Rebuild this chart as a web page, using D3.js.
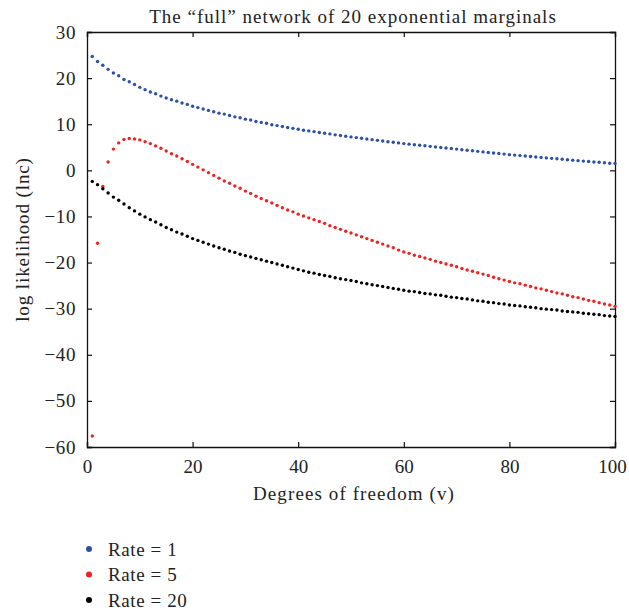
<!DOCTYPE html>
<html>
<head>
<meta charset="utf-8">
<script src="https://cdn.jsdelivr.net/npm/d3@7"></script>
<style>
  body { margin: 0; background: #fff; }
  text { font-family: "Liberation Serif", "DejaVu Serif", serif; fill: #222; }
</style>
</head>
<body>
<div class="canvas"></div>
<script>
// margins and dimensions
const w = 629;
const h = 615;
const margin = { top: 32, right: 14, bottom: 168, left: 87 };
const graphWidth = w - margin.left - margin.right;
const graphHeight = h - margin.top - margin.bottom;

// tick labels
const xTicks = [0, 20, 40, 60, 80, 100];
const yTicks = [30, 20, 10, 0, -10, -20, -30, -40, -50, -60];

// degrees of freedom, 1..100
const dof = d3.range(1, 101);

// log likelihood, one value per v
const rate1 = [
  24.7, 23.6, 22.8, 21.9, 21.1, 20.5, 19.7, 19.2, 18.6, 18.0,
  17.5, 17.0, 16.6, 16.1, 15.7, 15.3, 15.0, 14.6, 14.3, 13.9,
  13.6, 13.3, 13.0, 12.7, 12.4, 12.2, 11.9, 11.6, 11.4, 11.1,
  10.9, 10.6, 10.4, 10.2, 9.9, 9.7, 9.5, 9.3, 9.1, 8.9,
  8.7, 8.55, 8.4, 8.2, 8.05, 7.9, 7.7, 7.55, 7.4, 7.25,
  7.1, 6.95, 6.8, 6.65, 6.5, 6.35, 6.2, 6.1, 5.95, 5.8,
  5.68, 5.56, 5.44, 5.32, 5.2, 5.08, 4.96, 4.84, 4.72, 4.6,
  4.48, 4.36, 4.24, 4.12, 4.0, 3.88, 3.76, 3.64, 3.52, 3.4,
  3.3, 3.2, 3.1, 3.0, 2.9, 2.8, 2.7, 2.6, 2.5, 2.4,
  2.3, 2.2, 2.1, 2.0, 1.9, 1.8, 1.75, 1.65, 1.55, 1.5
];
const rate5 = [
  -57.6, -15.8, -3.5, 1.8, 4.6, 5.95, 6.7, 6.9, 6.8, 6.6,
  6.2, 5.8, 5.3, 4.8, 4.2, 3.6, 3.1, 2.5, 1.9, 1.3,
  0.7, 0.1, -0.5, -1.1, -1.7, -2.3, -2.8, -3.4, -3.9, -4.5,
  -5.0, -5.6, -6.1, -6.6, -7.1, -7.6, -8.1, -8.6, -9.0, -9.5,
  -9.9, -10.3, -10.7, -11.1, -11.5, -12.0, -12.4, -12.8, -13.2, -13.6,
  -14.0, -14.4, -14.8, -15.2, -15.6, -16.0, -16.4, -16.8, -17.3, -17.7,
  -18.0, -18.4, -18.7, -19.0, -19.3, -19.7, -20.0, -20.3, -20.6, -20.9,
  -21.3, -21.6, -21.9, -22.2, -22.5, -22.8, -23.2, -23.5, -23.8, -24.1,
  -24.4, -24.6, -24.9, -25.2, -25.5, -25.7, -26.0, -26.3, -26.6, -26.8,
  -27.1, -27.4, -27.6, -27.9, -28.2, -28.4, -28.7, -29.0, -29.2, -29.5
];
const rate20 = [
  -2.4, -3.1, -4.0, -4.9, -5.8, -6.5, -7.3, -8.1, -8.8, -9.5,
  -10.1, -10.7, -11.2, -11.8, -12.4, -12.9, -13.4, -13.8, -14.3, -14.8,
  -15.2, -15.6, -16.0, -16.4, -16.8, -17.1, -17.5, -17.8, -18.2, -18.5,
  -18.8, -19.1, -19.4, -19.7, -20.0, -20.3, -20.6, -20.9, -21.2, -21.5,
  -21.8, -22.1, -22.3, -22.6, -22.8, -23.0, -23.3, -23.5, -23.7, -23.9,
  -24.1, -24.4, -24.6, -24.8, -25.0, -25.2, -25.4, -25.6, -25.8, -26.0,
  -26.2, -26.3, -26.5, -26.7, -26.8, -27.0, -27.1, -27.3, -27.5, -27.6,
  -27.8, -27.9, -28.1, -28.3, -28.4, -28.6, -28.7, -28.9, -29.0, -29.2,
  -29.3, -29.4, -29.6, -29.7, -29.8, -30.0, -30.1, -30.2, -30.3, -30.5,
  -30.6, -30.7, -30.8, -31.0, -31.1, -31.2, -31.3, -31.5, -31.6, -31.7
];

const seriesNames = ["Rate = 1", "Rate = 5", "Rate = 20"];
const seriesColors = ["#2d4fa6", "#ee2222", "#000000"];
const seriesValues = [rate1, rate5, rate20];

// main svg
const svg = d3.select(".canvas").append("svg").attr("width", w).attr("height", h);

const graph = svg.append("g").attr("transform", `translate(${margin.left}, ${margin.top})`);

const x = d3.scaleLinear().domain([0, 100]).range([0, graphWidth]);
const y = d3.scaleLinear().domain([-60, 30]).range([graphHeight, 0]);

const fmt = (d) => (d < 0 ? "\u2212" + Math.abs(d) : d);

// bottom + top axes, ticks pointing in
const xAxis = graph.append("g").attr("transform", `translate(0, ${graphHeight})`)
  .call(d3.axisBottom(x).tickValues(xTicks).tickSize(-5).tickPadding(13).tickFormat(fmt));
graph.append("g")
  .call(d3.axisTop(x).tickValues(xTicks).tickSize(-5).tickFormat(""));

// left + right axes
const yAxis = graph.append("g")
  .call(d3.axisLeft(y).tickValues(yTicks).tickSize(-5).tickPadding(11).tickFormat(fmt));
graph.append("g").attr("transform", `translate(${graphWidth}, 0)`)
  .call(d3.axisRight(y).tickValues(yTicks).tickSize(-5).tickFormat(""));

graph.selectAll(".domain").attr("stroke", "#111").attr("stroke-width", 1.3);
graph.selectAll(".tick line").attr("stroke", "#111").attr("stroke-width", 1.2);
graph.selectAll(".tick text").style("font-size", "19px").attr("fill", "#222");
yAxis.selectAll(".tick text").style("letter-spacing", "0.6px");
// keep the last x label inside the page
xAxis.selectAll(".tick text").filter((d) => d === 100).attr("dx", -3);

// the points
seriesValues.forEach((vals, i) => {
  graph.append("g")
    .selectAll("circle")
    .data(vals)
    .join("circle")
    .attr("cx", (d, j) => x(dof[j]))
    .attr("cy", (d) => y(d))
    .attr("r", 1.7)
    .attr("fill", seriesColors[i]);
});

// title
svg.append("text")
  .attr("x", margin.left + graphWidth / 2 + 2)
  .attr("y", 23)
  .attr("text-anchor", "middle")
  .style("font-size", "19px")
  .style("letter-spacing", "1px")
  .text("The \u201cfull\u201d network of 20 exponential marginals");

// axis labels
svg.append("text")
  .attr("x", margin.left + graphWidth / 2 + 3)
  .attr("y", 500)
  .attr("text-anchor", "middle")
  .style("font-size", "19px")
  .style("letter-spacing", "1.1px")
  .text("Degrees of freedom (v)");

svg.append("text")
  .attr("transform", `translate(29, ${margin.top + graphHeight / 2}) rotate(-90)`)
  .attr("text-anchor", "middle")
  .style("font-size", "19px")
  .style("letter-spacing", "0.9px")
  .text("log likelihood (lnc)");

// legend
const legend = svg.append("g").attr("transform", "translate(89, 549)");
seriesNames.forEach((name, i) => {
  const row = legend.append("g").attr("transform", `translate(0, ${i * 25.5})`);
  row.append("circle").attr("r", 3).attr("fill", seriesColors[i]);
  row.append("text").attr("x", 19).attr("y", 6.5).style("font-size", "19px").style("letter-spacing", "0.6px").text(name);
});
</script>
</body>
</html>
